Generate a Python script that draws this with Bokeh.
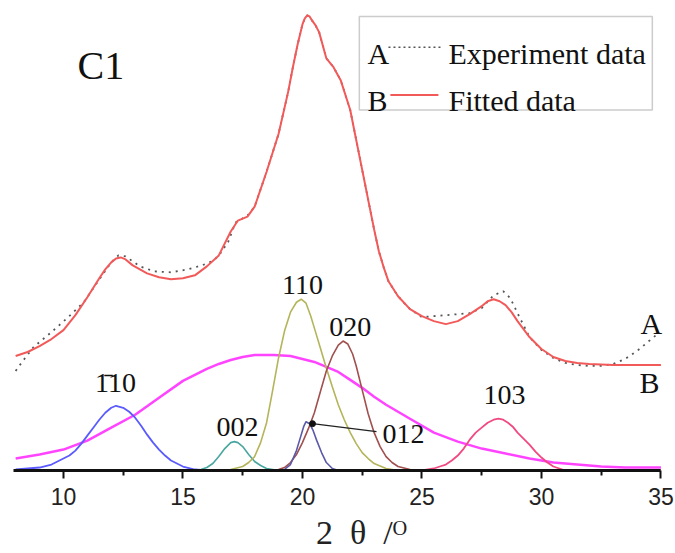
from bokeh.plotting import figure
from bokeh.models import Range1d, FixedTicker, Label, BoxAnnotation
from bokeh.embed import file_html
from bokeh.resources import INLINE

# ---- Diffraction data: 2-theta (deg) vs intensity (a.u.) ----
# Fitted profile (curve B, offset above the components)
fit_x = [8.0, 8.5, 9.0, 9.5, 10.0, 10.5, 11.0, 11.5, 11.75, 12.0, 12.2, 12.4, 12.6, 12.9,
         13.2, 13.5, 14.0, 14.5, 15.0, 15.5, 16.0, 16.5, 17.0, 17.3, 17.7, 18.0, 18.5,
         19.0, 19.4, 19.6, 19.8, 20.0, 20.1, 20.2, 20.3, 20.4, 20.55, 20.7, 21.0, 21.3,
         21.6, 22.0, 22.2, 22.4, 22.6, 22.8, 23.0, 23.2, 23.4, 23.6, 24.0, 24.5, 25.0,
         25.5, 26.0, 26.5, 27.0, 27.5, 27.75, 28.0, 28.25, 28.5, 28.75, 29.0, 29.25,
         29.5, 30.0, 30.5, 31.0, 31.5, 32.0, 33.0, 34.0, 35.0]
fit_y = [115, 119, 125, 132, 141, 156, 174, 193, 202, 209, 213, 214, 212, 206,
         202, 198, 194, 192, 193, 196, 205, 216, 240, 251, 255, 265, 300,
         338, 380, 405, 428, 448, 454, 457, 456, 452, 447, 440, 414, 405,
         392, 362, 338, 314, 290, 266, 242, 220, 204, 190, 175, 162, 155,
         150, 147, 150, 157, 165, 170, 172, 170, 166, 159, 150, 142,
         134, 122, 114, 110, 108, 107, 106, 106, 106]

# Measured profile (curve A)
exp_x = [8.0, 8.3, 8.75, 9.5, 10.2, 10.85, 11.5, 12.0, 12.3, 12.6, 13.2, 13.8, 14.5,
         15.2, 15.8, 16.3, 16.6, 16.9, 17.2, 17.7, 18.0, 18.5, 19.0, 19.4, 19.6, 19.8,
         20.0, 20.1, 20.2, 20.3, 20.4, 20.55, 20.7, 21.0, 21.3, 21.6, 22.0, 22.2, 22.4,
         22.6, 22.8, 23.0, 23.2, 23.4, 23.6, 24.0, 24.5, 25.0, 25.5, 26.0, 26.5, 27.0,
         27.5, 28.0, 28.4, 28.7, 29.0, 29.5, 30.0, 30.5, 31.0, 31.5, 32.0, 32.5, 33.0,
         33.5, 34.0, 34.5, 34.85]
exp_y = [100, 110, 124, 139, 154, 169, 192, 209, 216, 215, 205, 200, 199,
         202, 206, 211, 219, 230, 249, 256, 265, 300, 338, 380, 405, 428,
         448, 454, 457, 456, 452, 447, 440, 414, 405, 392, 362, 338, 314,
         290, 266, 242, 220, 204, 190, 175, 162, 154, 155, 156, 157, 158,
         163, 176, 180, 173, 158, 134, 121, 113, 108, 106, 105, 105, 107,
         112, 120, 130, 137]

# Deconvoluted peaks
p1b10_x = [8.0, 8.5, 9.0, 9.5, 9.75, 10.0, 10.25, 10.5, 10.75, 11.0, 11.25, 11.5, 11.75,
           12.0, 12.2, 12.5, 12.75, 13.0, 13.25, 13.5, 13.75, 14.0, 14.25, 14.5, 14.75,
           15.0, 15.5, 16.0]
p1b10_y = [1, 2, 3, 6, 9, 12, 15, 20, 27, 35, 43, 51, 58,
           63, 65, 63, 59, 53, 45, 36, 28, 21, 15, 10, 7,
           4, 1, 0]

p002_x = [15.5, 15.75, 16.0, 16.25, 16.5, 16.75, 17.0, 17.15, 17.3, 17.5, 17.75, 18.0,
          18.25, 18.5, 18.75, 19.0]
p002_y = [0, 1, 3, 7, 14, 22, 28, 29, 28, 24, 16, 9, 5, 2, 1, 0]

p110_x = [16.5, 17.0, 17.5, 17.75, 18.0, 18.25, 18.5, 18.75, 19.0, 19.25, 19.5, 19.75,
          19.95, 20.15, 20.35, 20.5, 20.75, 21.0, 21.25, 21.5, 21.75, 22.0, 22.25, 22.5,
          22.75, 23.0, 23.5, 24.0]
p110_y = [0, 1, 4, 8, 14, 28, 48, 80, 113, 140, 159, 169,
          172, 168, 155, 143, 123, 103, 84, 66, 51, 38, 27, 18,
          12, 7, 2, 0]

p020_x = [19.0, 19.25, 19.5, 19.75, 20.0, 20.25, 20.5, 20.75, 21.0, 21.25, 21.5, 21.7,
          21.9, 22.1, 22.25, 22.5, 22.75, 23.0, 23.25, 23.5, 23.75, 24.0, 24.5, 25.0]
p020_y = [1, 3, 8, 16, 28, 42, 58, 79, 100, 115, 126, 130,
          127, 117, 105, 81, 57, 38, 24, 14, 8, 4, 1, 0]

p012_x = [19.0, 19.25, 19.5, 19.75, 19.9, 20.05, 20.15, 20.3, 20.45, 20.6, 20.8, 21.0,
          21.25, 21.5]
p012_y = [0, 1, 6, 20, 32, 44, 49, 47, 40, 30, 18, 8, 2, 0]

amor_x = [8.0, 9.0, 10.0, 11.0, 12.0, 13.0, 14.0, 15.0, 16.0, 16.5, 17.0, 17.5, 18.0,
          18.8, 19.5, 20.0, 20.5, 21.0, 21.5, 22.0, 22.5, 23.0, 23.5, 24.0, 24.5, 25.5,
          26.5, 27.5, 28.5, 29.5, 30.5, 31.5, 32.5, 33.5, 35.0]
amor_y = [12, 16, 21, 30, 43, 56, 73, 90, 102, 107, 111, 114, 116,
          116, 115, 112, 109, 104, 99, 91, 83, 74, 66, 59, 52, 38,
          29, 22, 17, 12, 8, 6, 4, 3, 3]

p103_x = [25.0, 25.5, 25.75, 26.0, 26.25, 26.5, 26.75, 27.0, 27.25, 27.5, 27.75, 28.0,
          28.2, 28.4, 28.6, 28.8, 29.0, 29.25, 29.5, 29.75, 30.0, 30.25, 30.5, 31.0]
p103_y = [0, 2, 4, 6, 10, 15, 22, 31, 38, 43, 48, 51,
          52, 51, 48, 44, 38, 32, 26, 19, 13, 8, 4, 0]

base_x = [8.0, 35.0]
base_y = [0, 0]

# Peak labels: text, x, y
peak_text = ["1\u030410", "002", "110", "020", "012", "103"]
peak_lx = [12.18, 17.28, 20.0, 22.0, 24.23, 28.45]
peak_ly = [88, 44, 186, 144, 37, 76]

SERIF = "Liberation Serif"

p = figure(width=675, height=553, output_backend="svg", toolbar_location=None,
           x_range=Range1d(7.91, 35.61), y_range=Range1d(0, 472),
           x_axis_location="below", y_axis_location=None,
           min_border_left=13, min_border_right=0, min_border_top=0, min_border_bottom=81)
p.outline_line_color = None
p.grid.visible = False
p.background_fill_color = "white"
p.border_fill_color = "white"

ax = p.xaxis[0]
ax.bounds = (7.91, 35)
ax.ticker = FixedTicker(ticks=[10, 15, 20, 25, 30, 35],
                        minor_ticks=[12.5, 17.5, 22.5, 27.5, 32.5])
ax.axis_line_width = 3
ax.axis_line_color = "#111111"
ax.major_tick_line_width = 2
ax.major_tick_line_color = "#111111"
ax.major_tick_out = 8
ax.major_tick_in = 0
ax.minor_tick_line_width = 2
ax.minor_tick_line_color = "#111111"
ax.minor_tick_out = 5
ax.minor_tick_in = 0
ax.major_label_text_font = "Liberation Sans"
ax.major_label_text_font_size = "23px"
ax.major_label_text_color = "#222222"
ax.major_label_standoff = 9
ax.axis_label = "\u2002\u20022\u2002\u03b8\u2002/\u1d3c"
ax.axis_label_text_font = SERIF
ax.axis_label_text_font_size = "34px"
ax.axis_label_text_font_style = "normal"
ax.axis_label_text_color = "#222222"
ax.axis_label_text_line_height = 0.75
ax.axis_label_standoff = 6

# component peaks
p.line(amor_x, amor_y, line_color="#ff44ff", line_width=2.5)
p.line(p1b10_x, p1b10_y, line_color="#5a5aff", line_width=1.8)
p.line(p002_x, p002_y, line_color="#4aa6a0", line_width=1.6)
p.line(p110_x, p110_y, line_color="#b4b45a", line_width=1.6)
p.line(p020_x, p020_y, line_color="#a0504e", line_width=1.6)
p.line(p012_x, p012_y, line_color="#5a5aa8", line_width=1.6)
p.line(p103_x, p103_y, line_color="#f04a80", line_width=1.8)
p.line(base_x, base_y, line_color="#d02050", line_width=2.5)

# measured and fitted profiles
p.line(exp_x, exp_y, line_color="#555555", line_width=1.8, line_dash="2 5")
p.line(fit_x, fit_y, line_color="#f25a5a", line_width=2)

# pointer for the 012 reflection
p.line([20.42, 23.1], [47, 39], line_color="#222222", line_width=1.3)
p.scatter([20.42], [47], size=6, color="#111111")

for t, lx, ly in zip(peak_text, peak_lx, peak_ly):
    p.add_layout(Label(x=lx, y=ly, text=t, text_font=SERIF, text_font_size="28px",
                       text_align="center", text_baseline="middle", text_color="#111111"))

# curve markers on the right
p.add_layout(Label(x=34.6, y=148, text="A", text_font=SERIF, text_font_size="30px",
                   text_align="center", text_baseline="middle", text_color="#111111"))
p.add_layout(Label(x=34.52, y=88, text="B", text_font=SERIF, text_font_size="30px",
                   text_align="center", text_baseline="middle", text_color="#111111"))

# sample name
p.add_layout(Label(x=10.59, y=407, text="C1", text_font=SERIF, text_font_size="40px",
                   text_align="left", text_baseline="alphabetic", text_color="#111111"))

# legend
p.add_layout(BoxAnnotation(left=22.38, right=34.64, bottom=362, top=456,
                           fill_alpha=0, line_color="#555555", line_width=1.5))
p.line([23.6, 25.86], [425, 425], line_color="#555555", line_width=1.5, line_dash="2 3")
p.line([23.68, 25.69], [377, 377], line_color="#f25a5a", line_width=2)
for t, lx, ly in [("A", 22.72, 419), ("B", 22.72, 372),
                  ("Experiment data", 26.11, 419), ("Fitted data", 26.11, 372)]:
    p.add_layout(Label(x=lx, y=ly, text=t, text_font=SERIF, text_font_size="30px",
                       text_align="left", text_baseline="alphabetic", text_color="#111111"))

open("out.html", "w").write(file_html(p, INLINE))
